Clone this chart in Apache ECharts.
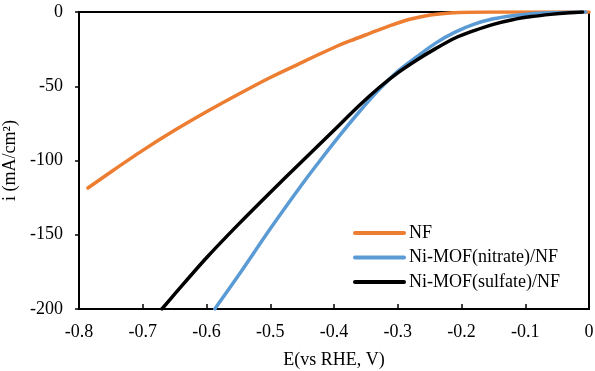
<!DOCTYPE html>
<html>
<head>
<meta charset="utf-8">
<script src="https://cdn.jsdelivr.net/npm/echarts@6/dist/echarts.min.js"></script>
<style>
  html, body { margin: 0; padding: 0; background: #fff; }
  #chart { width: 595px; height: 371px; }
</style>
</head>
<body>
<div id="chart"></div>
<script>
// Polarization curves: potential E (V vs RHE) against current density i (mA/cm²)
const seriesNames = ['NF', 'Ni-MOF(nitrate)/NF', 'Ni-MOF(sulfate)/NF'];
const seriesColors = ['#ED7D31', '#5B9BD5', '#000000'];

const nfE = [-0.786, -0.75, -0.70, -0.65, -0.60, -0.55, -0.50, -0.45, -0.425, -0.40, -0.375, -0.344, -0.312, -0.281, -0.249, -0.218, -0.187, -0.12, 0.00];
const nfI = [-118.5, -107.7, -93.2, -79.7, -67.2, -55.4, -44.1, -33.9, -28.8, -23.9, -19.5, -14.4, -9.2, -4.9, -2.0, -0.6, -0.15, -0.03, 0];

const nitrateE = [-0.587, -0.55, -0.50, -0.45, -0.42, -0.39, -0.36, -0.33, -0.30, -0.27, -0.24, -0.21, -0.18, -0.15, -0.12, -0.09, -0.06, -0.03, -0.005];
const nitrateI = [-200, -177.5, -146, -116, -99, -82.6, -67, -52.6, -40, -30.1, -20.8, -13.6, -8.2, -4.6, -2.5, -1.15, -0.5, -0.15, 0];

const sulfateE = [-0.670, -0.65, -0.60, -0.55, -0.50, -0.45, -0.40, -0.36, -0.33, -0.30, -0.27, -0.24, -0.21, -0.18, -0.15, -0.12, -0.09, -0.06, -0.03, -0.01];
const sulfateI = [-200, -190, -165.5, -143, -121.5, -100.5, -79.6, -62.8, -51.2, -41, -32.3, -24.5, -17.5, -12.5, -8.3, -5.2, -3.1, -1.6, -0.5, 0];

const xTicks = { min: -0.8, max: 0, step: 0.1 };
const yTicks = { min: -200, max: 0, step: 50 };

const pairs = (xs, ys) => xs.map((x, k) => [x, ys[k]]);
const curves = [pairs(nfE, nfI), pairs(nitrateE, nitrateI), pairs(sulfateE, sulfateI)];

const font = 'Liberation Serif';
const chart = echarts.init(document.getElementById('chart'), null, { renderer: 'canvas' });

chart.setOption({
  animation: false,
  backgroundColor: '#fff',
  textStyle: { fontFamily: font, color: '#000' },
  grid: {
    left: 79, right: 6, top: 12, bottom: 62,
    outerBoundsMode: 'none',
    containLabel: false,
    show: true, borderColor: '#000', borderWidth: 2, backgroundColor: 'transparent'
  },
  legend: {
    orient: 'vertical',
    left: 353, top: 224, padding: 0,
    icon: 'path://M2,0 L51,0 A2,2 0 0 1 51,4 L2,4 A2,2 0 0 1 2,0 Z',
    itemWidth: 53, itemHeight: 4, itemGap: 6.5,
    textStyle: { fontFamily: font, fontSize: 18, color: '#000', padding: [0, 0, 0, -2] },
    data: seriesNames.map((n, k) => ({ name: n, itemStyle: { color: seriesColors[k] } }))
  },
  xAxis: {
    type: 'value',
    min: xTicks.min, max: xTicks.max, interval: xTicks.step,
    name: 'E(vs RHE, V)', nameLocation: 'middle', nameGap: 42,
    nameTextStyle: { fontFamily: font, fontSize: 18, color: '#000' },
    axisLine: { onZero: false, lineStyle: { color: '#000', width: 2 } },
    axisTick: { inside: true, length: 5, lineStyle: { color: '#000', width: 1.5 } },
    axisLabel: {
      fontFamily: font, fontSize: 18, color: '#000', margin: 14,
      formatter: v => (Math.abs(v) < 1e-9 ? '0' : v.toFixed(1))
    },
    splitLine: { show: false }
  },
  yAxis: {
    type: 'value',
    min: yTicks.min, max: yTicks.max, interval: yTicks.step,
    name: 'i (mA/cm²)', nameLocation: 'middle', nameGap: 54,
    nameTextStyle: { fontFamily: font, fontSize: 18, color: '#000' },
    axisLine: { onZero: false, lineStyle: { color: '#000', width: 2 } },
    axisTick: { inside: false, length: 4, lineStyle: { color: '#000', width: 1.5 } },
    axisLabel: { fontFamily: font, fontSize: 18, color: '#000', margin: 16 },
    splitLine: { show: false }
  },
  series: curves.map((data, k) => ({
    name: seriesNames[k],
    type: 'line',
    data: data,
    smooth: 0.3,
    symbol: 'none',
    clip: true,
    color: seriesColors[k],
    lineStyle: { color: seriesColors[k], width: 3.5, cap: 'round' }
  }))
});
</script>
</body>
</html>
